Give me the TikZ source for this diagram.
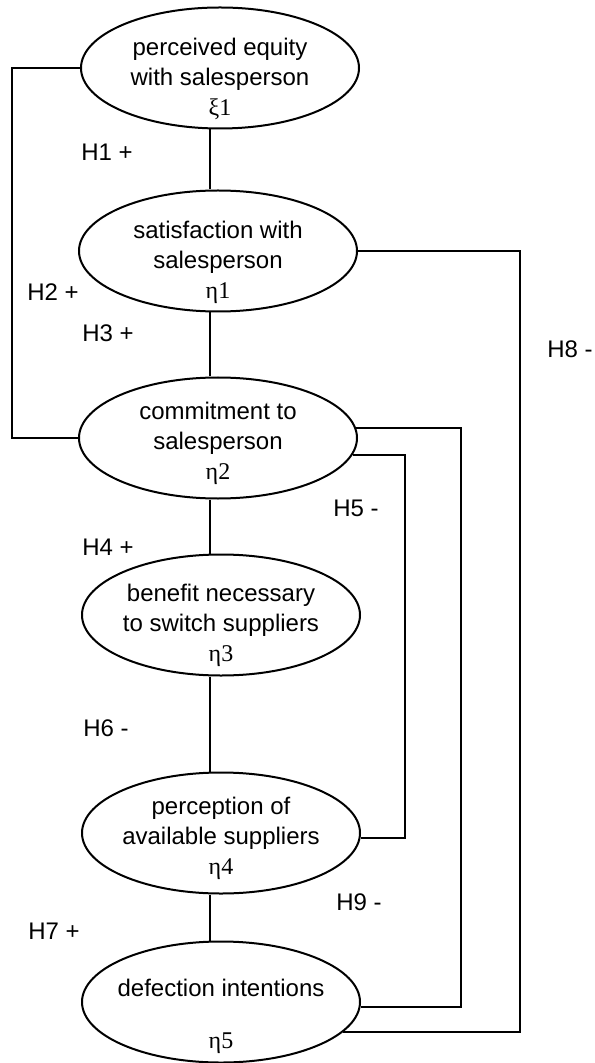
\documentclass[tikz,border=0pt]{standalone}
\usepackage{fontspec}
\setmainfont{Liberation Sans}
\newfontfamily\grk{Liberation Serif}
\usetikzlibrary{shapes.geometric}
\tikzset{
  latent/.style = {draw, ellipse, line width=1pt,
    minimum width=139pt, minimum height=60.5pt, inner sep=0pt},
  caption/.style = {align=center, inner sep=0pt, font=\fontsize{12}{15}\selectfont},
  hyp/.style = {inner sep=0pt, font=\fontsize{12}{15}\selectfont},
  link/.style = {line width=1pt}
}

\begin{document}
\begin{tikzpicture}[x=0.5pt,y=-0.5pt]
  \useasboundingbox (0,0) rectangle (594,1063);
  % constructs
  \node[latent] (xi1)  at (220,68)   {};
  \node[latent] (eta1) at (218,251)  {};
  \node[latent] (eta2) at (218,438)  {};
  \node[latent] (eta3) at (221,615)  {};
  \node[latent] (eta4) at (221,833)  {};
  \node[latent] (eta5) at (221,1002) {};
  \node[caption] (xi1t)  at (220,79)   {perceived equity\\with salesperson\\{\grk ξ1}};
  \node[caption] (eta1t) at (218,262)  {satisfaction with\\salesperson\\{\grk η1}};
  \node[caption] (eta2t) at (218,443)  {commitment to\\salesperson\\{\grk η2}};
  \node[caption] (eta3t) at (221,625)  {benefit necessary\\to switch suppliers\\{\grk η3}};
  \node[caption] (eta4t) at (221,838)  {perception of\\available suppliers\\{\grk η4}};
  \node[caption] (eta5t) at (221,1016) {defection intentions\\[11pt]{\grk η5}};
  % routing columns
  \coordinate (spine) at (210,0);
  \coordinate (h2) at (12,0);
  \coordinate (h5) at (405,0);
  \coordinate (h9) at (461,0);
  \coordinate (h8) at (520,0);
  % main chain
  \foreach \a/\b in {xi1/eta1,eta1/eta2,eta2/eta3,eta3/eta4,eta4/eta5} {
    \draw[link] (\a.south -| spine) -- (\b.north -| spine);
  }
  % side paths
  \draw[link] (xi1.west) -- (xi1.west -| h2) |- (eta2.west);
  \draw[link] (eta1.east) -- (eta1.east -| h8) |- (eta5.-14);
  \draw[link] (eta2.4) -- (eta2.4 -| h9) |- (eta5.-2);
  \draw[link] (eta2.-7) -- (eta2.-7 -| h5) |- (eta4.-2);
  % hypotheses
  \node[hyp] (lH1) at (107,152) {H1 +};
  \node[hyp] (lH2) at (53,292)  {H2 +};
  \node[hyp] (lH3) at (108,333) {H3 +};
  \node[hyp] (lH4) at (108,547) {H4 +};
  \node[hyp] (lH5) at (356,508) {H5 -};
  \node[hyp] (lH6) at (106,728) {H6 -};
  \node[hyp] (lH7) at (54,931)  {H7 +};
  \node[hyp] (lH8) at (570,349) {H8 -};
  \node[hyp] (lH9) at (359,902) {H9 -};
\end{tikzpicture}
\end{document}
